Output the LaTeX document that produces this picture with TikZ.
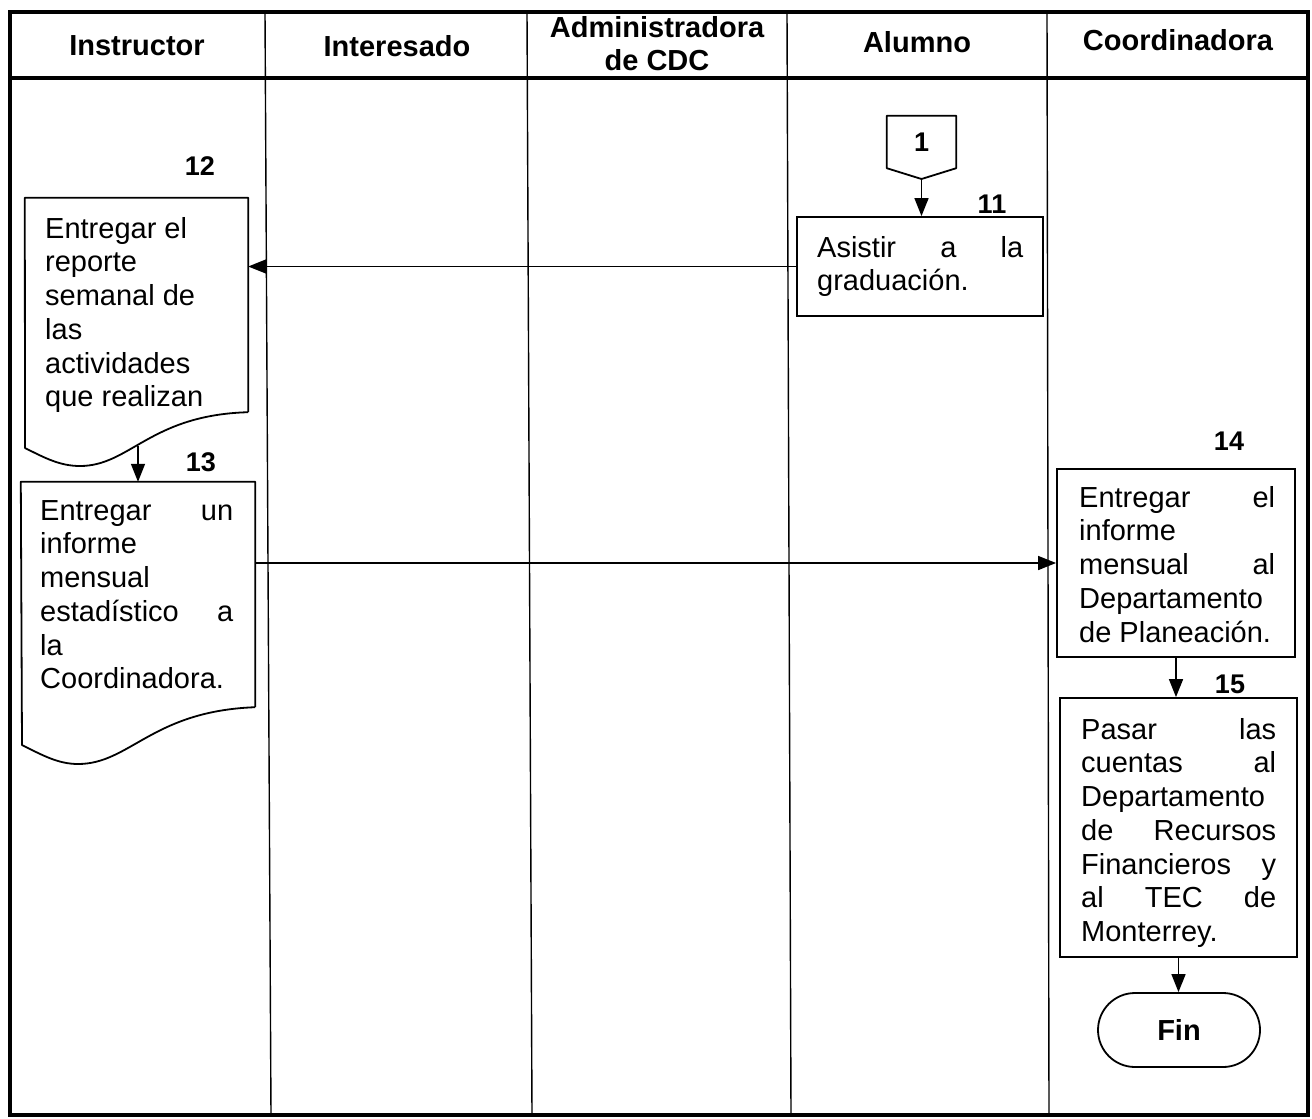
\documentclass[tikz,border=0pt]{standalone}
\usepackage{fontspec}
\setmainfont{Liberation Sans}
\usetikzlibrary{arrows.meta,shapes.misc,calc}
\newcommand\lstrut{\rule{0pt}{24pt}}
\newcommand\jline[2]{\makebox[#1][s]{#2}}

\begin{document}
\begin{tikzpicture}[x=1pt,y=-1pt,
  frame/.style={line width=3.5pt},
  lane/.style={line width=1.4pt},
  outline/.style={line width=1.8pt, line join=round},
  stepbox/.style={draw, line width=1.8pt, inner sep=0pt},
  ghost/.style={inner sep=0pt},
  body/.style={anchor=north west, inner sep=0pt, align=left, font=\fontsize{29}{33.7}\selectfont},
  head/.style={font=\fontsize{29}{33}\selectfont\bfseries, align=center, inner sep=0pt},
  num/.style={font=\fontsize{27}{30}\selectfont\bfseries, inner sep=0pt},
  arr/.style={line width=1.5pt, -{Triangle[length=18pt,width=14pt]}},
]
\useasboundingbox (0,0) rectangle (1312,1119);
\fill[white] (0,0) rectangle (1312,1119);

% swimlane table
\draw[frame] (10,12) rectangle (1308,1115);
\draw[frame] (10,78) -- (1308,78);
\draw[lane] (265,12) -- (271,1115);
\draw[lane] (527,12) -- (532,1115);
\draw[lane] (787,12) -- (791,1115);
\draw[lane] (1047,12) -- (1049,1115);

% lane titles
\node[head] (hInstr) at (137,46) {Instructor};
\node[head] (hInter) at (397,46) {Interesado};
\node[head] (hAdmin) at (657,44) {Administradora\\de CDC};
\node[head] (hAlum)  at (917,42) {Alumno};
\node[head] (hCoord) at (1178,40) {Coordinadora};

% off-page connector 1
\node[ghost, minimum width=69pt, minimum height=52pt] (c1) at (921.5,142) {};
\coordinate (c1tip) at (921.5,179);
\draw[outline] (c1.north west) -- (c1.north east) -- (c1.south east) -- (c1tip) -- (c1.south west) -- cycle;
\node[num] (n1) at (c1) {1};

% step 11
\node[stepbox, minimum width=246pt, minimum height=99pt] (box11) at (920,266.5) {};
\node[body] (t11) at (817,233) {\lstrut\jline{206pt}{Asistir a la}\\graduación.};
\node[num] (n11) at (992,204) {11};

% step 12 (document)
\node[ghost, minimum width=223pt, minimum height=214pt] (doc12) at (136.5,305) {};
\draw[outline] (doc12.south east) -- (doc12.north east) -- (doc12.north west) -- (25,448)
  .. controls (45,458) and (60,466) .. (80,466)
  .. controls (130,466) and (150,415) .. (doc12.south east);
\coordinate (w12) at (138,446);
\node[body] (t12) at (45,214) {\lstrut Entregar el\\reporte\\semanal de\\las\\actividades\\que realizan};
\node[num] (n12) at (200,166) {12};

% step 13 (document)
\node[ghost, minimum width=234pt, minimum height=225pt] (doc13) at (138,594.5) {};
\draw[outline] (doc13.south east) -- (doc13.north east) -- (doc13.north west) -- (22,745)
  .. controls (42,755) and (58,764) .. (78,764)
  .. controls (130,764) and (152,711) .. (doc13.south east);
\node[body] (t13) at (40,496) {\lstrut\jline{193pt}{Entregar un}\\informe\\mensual\\\jline{193pt}{estadístico a}\\la\\Coordinadora.};
\node[num] (n13) at (201,462) {13};

% step 14
\node[stepbox, minimum width=238pt, minimum height=188pt] (box14) at (1176,563) {};
\node[body] (t14) at (1079,483) {\lstrut\jline{196pt}{Entregar el}\\informe\\\jline{196pt}{mensual al}\\Departamento\\de Planeación.};
\node[num] (n14) at (1229,441) {14};

% step 15
\node[stepbox, minimum width=237pt, minimum height=259pt] (box15) at (1178.5,827.5) {};
\node[body] (t15) at (1081,715) {\lstrut\jline{195pt}{Pasar las}\\\jline{195pt}{cuentas al}\\Departamento\\\jline{195pt}{de Recursos}\\\jline{195pt}{Financieros y}\\\jline{195pt}{al TEC de}\\Monterrey.};
\node[num] (n15) at (1230,684) {15};

% end terminal
\node[draw, rounded rectangle, line width=1.8pt, minimum width=162pt, minimum height=74pt,
      inner sep=0pt, font=\fontsize{29}{33}\selectfont\bfseries] (fin) at (1179,1030) {Fin};

% flow
\draw[arr] (c1tip) -- (c1tip |- box11.north);
\draw[arr] (box11.west) -- (box11.west -| doc12.east);
\draw[arr] (w12) -- (w12 |- doc13.north);
\draw[arr] (box14.west -| doc13.east) -- (box14.west);
\draw[arr] (box14.south) -- (box14.south |- box15.north);
\draw[arr] (box15.south) -- (box15.south |- fin.north);
\end{tikzpicture}
\end{document}
